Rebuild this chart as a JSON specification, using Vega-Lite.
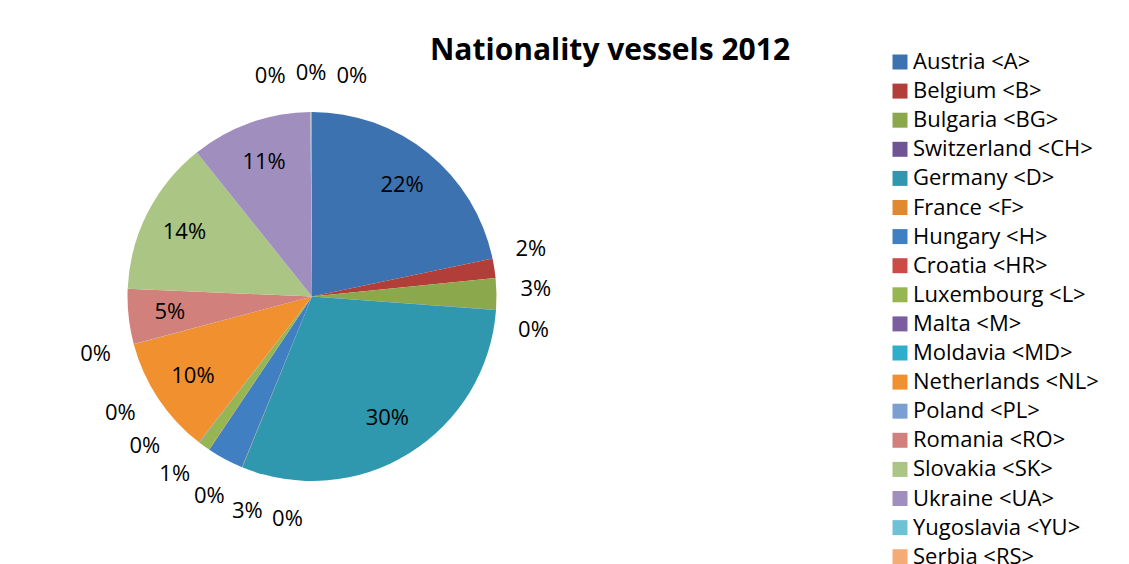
{
  "$schema": "https://vega.github.io/schema/vega-lite/v6.json",
  "width": 624,
  "height": 535,
  "autosize": {"type": "none"},
  "padding": {"left": 0, "top": 29, "right": 505, "bottom": 0},
  "background": "white",
  "title": {"text": "Nationality vessels 2012", "anchor": "middle", "frame": "group", "font": "Open Sans", "fontSize": 30, "fontWeight": "bold", "color": "black", "baseline": "alphabetic", "offset": 0, "dx": 298, "dy": 61},
  "data": {"values": [
    {"order": 0, "country": "Austria <A>", "value": 21.7},
    {"order": 1, "country": "Belgium <B>", "value": 1.7},
    {"order": 2, "country": "Bulgaria <BG>", "value": 2.75},
    {"order": 3, "country": "Switzerland <CH>", "value": 0.03},
    {"order": 4, "country": "Germany <D>", "value": 30.0},
    {"order": 5, "country": "France <F>", "value": 0.03},
    {"order": 6, "country": "Hungary <H>", "value": 3.2},
    {"order": 7, "country": "Croatia <HR>", "value": 0.03},
    {"order": 8, "country": "Luxembourg <L>", "value": 1.0},
    {"order": 9, "country": "Malta <M>", "value": 0.03},
    {"order": 10, "country": "Moldavia <MD>", "value": 0.03},
    {"order": 11, "country": "Netherlands <NL>", "value": 10.35},
    {"order": 12, "country": "Poland <PL>", "value": 0.03},
    {"order": 13, "country": "Romania <RO>", "value": 4.8},
    {"order": 14, "country": "Slovakia <SK>", "value": 13.6},
    {"order": 15, "country": "Ukraine <UA>", "value": 10.6},
    {"order": 16, "country": "Yugoslavia <YU>", "value": 0.03},
    {"order": 17, "country": "Serbia <RS>", "value": 0.08},
    {"order": 18, "country": "Other", "value": 0.03}
  ]},
  "layer": [
    {
      "mark": {"type": "arc", "radius": 184.5},
      "encoding": {
        "theta": {"field": "value", "type": "quantitative", "stack": true},
        "order": {"field": "order", "type": "quantitative"},
        "color": {
          "field": "country", "type": "nominal",
          "scale": {
            "domain": ["Austria <A>", "Belgium <B>", "Bulgaria <BG>", "Switzerland <CH>", "Germany <D>", "France <F>", "Hungary <H>", "Croatia <HR>", "Luxembourg <L>", "Malta <M>", "Moldavia <MD>", "Netherlands <NL>", "Poland <PL>", "Romania <RO>", "Slovakia <SK>", "Ukraine <UA>", "Yugoslavia <YU>", "Serbia <RS>", "Other"],
            "range": ["#3C72AF", "#B23E3A", "#8CA84C", "#6E5495", "#2F98AF", "#E0892E", "#4080C2", "#CD4B47", "#95B650", "#7B5EA0", "#2EAECB", "#F0902F", "#7C9FD2", "#D1807C", "#AAC584", "#A08EBE", "#6FC2D6", "#F5AB74", "#2C5A8E"]
          },
          "legend": {
            "title": null, "orient": "none", "legendX": 889, "legendY": 22,
            "padding": 0, "symbolType": "square", "symbolSize": 225, "symbolStrokeWidth": 0,
            "labelFont": "Open Sans", "labelFontSize": 22, "labelColor": "black", "labelOffset": 2,
            "rowPadding": 7.1, "labelLimit": 300
          }
        }
      }
    },
    {
      "transform": [
        {"joinaggregate": [{"op": "sum", "field": "value", "as": "total"}]},
        {"window": [{"op": "sum", "field": "value", "as": "cum"}], "sort": [{"field": "order"}], "frame": [null, 0]},
        {"calculate": "(datum.cum - datum.value / 2) / datum.total * 360", "as": "mid"},
        {"calculate": "datum.value / datum.total < 0.04", "as": "small"},
        {"calculate": "datum.small ? floor((datum.mid + 15) / 30) : -1 - datum.order", "as": "cluster"},
        {"joinaggregate": [{"op": "mean", "field": "mid", "as": "cmean"}, {"op": "count", "as": "cn"}], "groupby": ["cluster"]},
        {"window": [{"op": "row_number", "as": "k"}], "groupby": ["cluster"], "sort": [{"field": "order"}]},
        {"calculate": "(datum.small ? datum.cmean + (datum.k - 1 - (datum.cn - 1) / 2) * 10.5 : datum.mid) * PI / 180", "as": "la"},
        {"calculate": "datum.small ? 224 : 143", "as": "lr"},
        {"calculate": "format(datum.value / datum.total, '.0%')", "as": "txt"}
      ],
      "mark": {"type": "text", "font": "Open Sans", "fontSize": 22, "color": "black", "align": "center", "baseline": "middle"},
      "encoding": {
        "theta": {"field": "la", "type": "quantitative", "scale": null, "stack": null},
        "radius": {"field": "lr", "type": "quantitative", "scale": null},
        "text": {"field": "txt", "type": "nominal"}
      }
    }
  ],
  "config": {"view": {"stroke": null}}
}
